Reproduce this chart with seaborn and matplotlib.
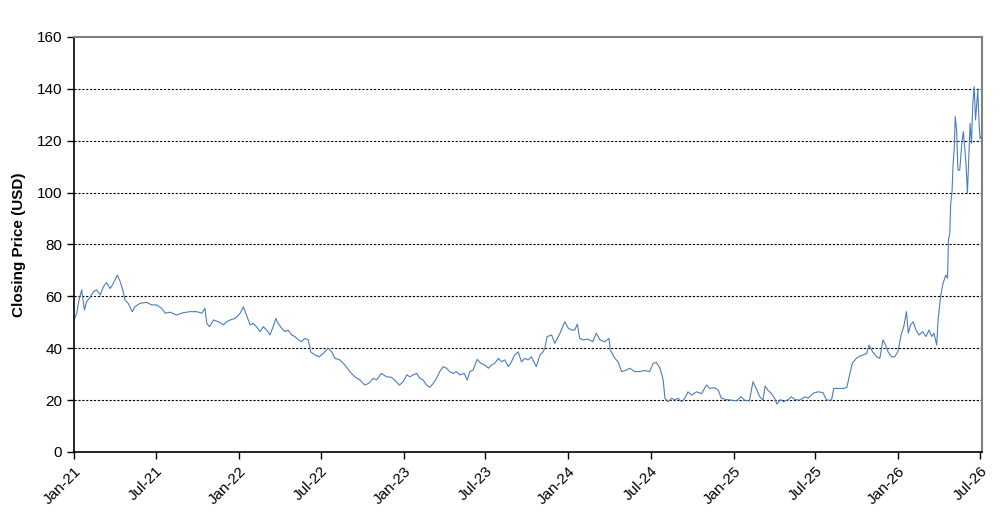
import pandas as pd
import seaborn as sns
import matplotlib.pyplot as plt
import matplotlib.dates as mdates

# closing prices, split by year
dates_2021 = ['2021-01-01', '2021-01-07', '2021-01-12', '2021-01-18', '2021-01-24', '2021-01-29',
              '2021-02-05', '2021-02-13', '2021-02-20', '2021-02-28', '2021-03-07', '2021-03-14',
              '2021-03-22', '2021-03-29', '2021-04-07', '2021-04-13', '2021-04-19', '2021-04-24',
              '2021-05-01', '2021-05-10', '2021-05-16', '2021-05-27', '2021-06-11', '2021-06-22',
              '2021-07-03', '2021-07-14', '2021-07-22', '2021-08-02', '2021-08-16', '2021-08-31',
              '2021-09-15', '2021-09-30', '2021-10-11', '2021-10-18', '2021-10-22', '2021-10-28',
              '2021-11-06', '2021-11-17', '2021-11-28', '2021-12-05', '2021-12-13', '2021-12-24']
close_2021 = [50.9, 53.5, 58.6, 62.5, 54.7, 58.0, 59.5, 61.8, 62.5, 60.5, 63.7, 65.3,
              63.0, 65.0, 68.2, 65.8, 62.5, 58.6, 57.3, 54.1, 56.0, 57.3, 57.7, 56.7,
              56.7, 55.4, 53.5, 53.9, 52.8, 53.7, 54.1, 54.1, 53.5, 55.4, 49.6, 48.3,
              50.9, 50.2, 49.0, 50.2, 50.9, 51.5]

dates_2022 = ['2022-01-04', '2022-01-11', '2022-01-18', '2022-01-26', '2022-02-02', '2022-02-09',
              '2022-02-17', '2022-02-24', '2022-03-04', '2022-03-11', '2022-03-18', '2022-03-24',
              '2022-03-29', '2022-04-06', '2022-04-13', '2022-04-20', '2022-04-28', '2022-05-05',
              '2022-05-13', '2022-05-20', '2022-05-27', '2022-06-04', '2022-06-09', '2022-06-19',
              '2022-06-28', '2022-07-07', '2022-07-18', '2022-07-26', '2022-08-02', '2022-08-13',
              '2022-08-24', '2022-09-04', '2022-09-15', '2022-09-26', '2022-10-07', '2022-10-15',
              '2022-10-26', '2022-11-02', '2022-11-13', '2022-11-24', '2022-12-05', '2022-12-12',
              '2022-12-19', '2022-12-23', '2022-12-31']
close_2022 = [53.5, 56.0, 52.8, 49.0, 49.6, 48.3, 46.4, 48.3, 47.0, 45.1, 48.3, 51.5,
              49.6, 47.7, 46.4, 47.0, 45.1, 44.5, 43.2, 42.5, 43.8, 43.2, 38.6, 37.4,
              36.7, 38.0, 40.0, 38.6, 36.1, 35.5, 33.5, 31.0, 29.0, 27.8, 25.8, 26.4,
              28.4, 27.8, 30.3, 29.0, 28.8, 27.8, 26.5, 25.8, 27.1]

dates_2023 = ['2023-01-08', '2023-01-15', '2023-01-22', '2023-01-30', '2023-02-06', '2023-02-13',
              '2023-02-21', '2023-02-28', '2023-03-08', '2023-03-15', '2023-03-22', '2023-03-30',
              '2023-04-06', '2023-04-13', '2023-04-21', '2023-04-28', '2023-05-06', '2023-05-15',
              '2023-05-22', '2023-05-28', '2023-06-04', '2023-06-13', '2023-06-21', '2023-06-30',
              '2023-07-08', '2023-07-15', '2023-07-22', '2023-07-30', '2023-08-06', '2023-08-13',
              '2023-08-21', '2023-08-28', '2023-09-04', '2023-09-12', '2023-09-19', '2023-09-27',
              '2023-10-04', '2023-10-11', '2023-10-22', '2023-10-30', '2023-11-06', '2023-11-10',
              '2023-11-15', '2023-11-25', '2023-12-02', '2023-12-13', '2023-12-24']
close_2023 = [29.7, 29.0, 29.7, 30.3, 28.4, 27.8, 25.8, 24.9, 26.5, 28.4, 31.0, 32.9,
              32.3, 31.0, 30.3, 31.0, 29.7, 30.3, 27.8, 31.0, 31.6, 35.7, 34.2, 33.5,
              32.3, 33.5, 34.2, 36.1, 34.8, 35.5, 32.9, 34.8, 37.4, 38.6, 34.8, 36.1,
              35.5, 36.7, 32.9, 37.4, 38.6, 40.0, 44.5, 45.1, 41.9, 45.6, 50.2]

dates_2024 = ['2024-01-01', '2024-01-08', '2024-01-15', '2024-01-21', '2024-01-26', '2024-02-03',
              '2024-02-14', '2024-02-24', '2024-03-03', '2024-03-11', '2024-03-22', '2024-03-31',
              '2024-04-03', '2024-04-13', '2024-04-20', '2024-04-28', '2024-05-09', '2024-05-16',
              '2024-05-27', '2024-06-07', '2024-06-18', '2024-06-29', '2024-07-07', '2024-07-14',
              '2024-07-22', '2024-07-29', '2024-08-02', '2024-08-09', '2024-08-17', '2024-08-24',
              '2024-08-31', '2024-09-08', '2024-09-15', '2024-09-22', '2024-09-30', '2024-10-11',
              '2024-10-22', '2024-11-02', '2024-11-09', '2024-11-20', '2024-11-28', '2024-12-05',
              '2024-12-16', '2024-12-27']
close_2024 = [47.7, 47.0, 47.0, 49.3, 43.8, 43.2, 43.5, 42.5, 45.8, 43.2, 42.5, 43.8,
              39.3, 36.1, 34.8, 31.0, 31.6, 32.3, 31.0, 31.0, 31.4, 31.0, 34.2, 34.5,
              32.3, 27.8, 20.7, 19.4, 20.7, 20.0, 20.7, 19.4, 20.7, 23.2, 21.9, 23.2,
              22.5, 25.8, 24.5, 24.8, 23.8, 20.7, 20.2, 20.0]

dates_2025 = ['2025-01-07', '2025-01-18', '2025-01-25', '2025-02-05', '2025-02-13', '2025-02-20',
              '2025-02-28', '2025-03-07', '2025-03-12', '2025-03-18', '2025-03-26', '2025-04-02',
              '2025-04-07', '2025-04-15', '2025-04-22', '2025-05-02', '2025-05-09', '2025-05-17',
              '2025-05-28', '2025-06-08', '2025-06-15', '2025-06-26', '2025-07-07', '2025-07-18',
              '2025-07-26', '2025-08-06', '2025-08-11', '2025-08-21', '2025-09-01', '2025-09-09',
              '2025-09-15', '2025-09-21', '2025-09-30', '2025-10-08', '2025-10-15', '2025-10-23',
              '2025-10-28', '2025-11-05', '2025-11-14', '2025-11-21', '2025-11-28', '2025-12-02',
              '2025-12-09', '2025-12-17', '2025-12-24', '2025-12-31']
close_2025 = [19.7, 21.3, 20.0, 19.7, 27.1, 24.5, 21.3, 20.0, 25.4, 23.8, 22.5, 20.7,
              18.5, 20.2, 19.4, 20.2, 21.3, 20.2, 20.0, 21.3, 20.7, 22.6, 23.2, 22.9,
              20.0, 20.0, 24.5, 24.5, 24.5, 24.9, 29.7, 34.2, 36.1, 37.0, 37.4, 38.0,
              41.2, 38.6, 36.7, 36.1, 43.2, 41.9, 38.7, 36.7, 36.7, 38.7]

dates_2026 = ['2026-01-08', '2026-01-13', '2026-01-19', '2026-01-23', '2026-01-28', '2026-02-03',
              '2026-02-09', '2026-02-16', '2026-02-24', '2026-03-03', '2026-03-10', '2026-03-16',
              '2026-03-21', '2026-03-27', '2026-03-30', '2026-04-05', '2026-04-10', '2026-04-16',
              '2026-04-20', '2026-04-22', '2026-04-25', '2026-04-27', '2026-04-30', '2026-05-02',
              '2026-05-05', '2026-05-07', '2026-05-10', '2026-05-13', '2026-05-17', '2026-05-22',
              '2026-05-25', '2026-05-28', '2026-05-31', '2026-06-03', '2026-06-05', '2026-06-09',
              '2026-06-12', '2026-06-15', '2026-06-18', '2026-06-21', '2026-06-24', '2026-06-26',
              '2026-06-29', '2026-07-01', '2026-07-03']
close_2026 = [45.8, 48.3, 54.1, 45.8, 49.0, 50.2, 47.0, 45.1, 46.4, 44.5, 47.0, 44.5,
              45.8, 41.2, 50.9, 60.5, 65.0, 68.2, 67.0, 81.7, 84.3, 95.9, 100.4, 110.0,
              117.7, 129.3, 124.1, 108.7, 108.7, 119.6, 123.5, 117.7, 110.6, 99.7, 108.7, 126.7,
              119.0, 134.4, 140.8, 128.0, 135.0, 139.5, 126.0, 120.9, 121.5]

dates = dates_2021 + dates_2022 + dates_2023 + dates_2024 + dates_2025 + dates_2026
close = close_2021 + close_2022 + close_2023 + close_2024 + close_2025 + close_2026
df = pd.DataFrame({'Date': pd.to_datetime(dates), 'Close': close})

sns.set_style('white')
plt.rcParams['font.family'] = ['Liberation Sans', 'DejaVu Sans']

fig = plt.figure(figsize=(10.06, 5.2), dpi=100)
ax = fig.add_axes([0.0736, 0.1308, 0.9024, 0.7981])
sns.lineplot(data=df, x='Date', y='Close', color='#4a7ebb', linewidth=0.8, ax=ax)

ax.set_xlim(pd.Timestamp('2021-01-01'), pd.Timestamp('2026-07-05'))
ax.set_ylim(0, 160)
ax.set_yticks(range(0, 161, 20))
ax.xaxis.set_major_locator(mdates.MonthLocator(bymonth=[1, 7]))
ax.xaxis.set_major_formatter(mdates.DateFormatter('%b-%y'))
for lab in ax.get_xticklabels():
    lab.set_rotation(45)
    lab.set_ha('right')
    lab.set_rotation_mode('anchor')

for v in range(20, 160, 20):
    ax.axhline(v, color='black', linestyle=(0, (2, 1.5)), linewidth=0.8, zorder=0)

ax.tick_params(axis='both', direction='out', length=5, width=1, color='black',
               labelsize=11, labelcolor='black', bottom=True, left=True)
ax.spines['left'].set_color('black')
ax.spines['bottom'].set_color('black')
ax.spines['left'].set_linewidth(1.2)
ax.spines['bottom'].set_linewidth(1.2)
ax.spines['top'].set_color('#808080')
ax.spines['right'].set_color('#808080')
ax.spines['top'].set_linewidth(1.5)
ax.spines['right'].set_linewidth(1.5)

ax.set_xlabel('')
ax.set_ylabel('Closing Price (USD)', fontsize=11, fontweight='bold', color='black', labelpad=8)

plt.savefig('out.png', dpi=100)
